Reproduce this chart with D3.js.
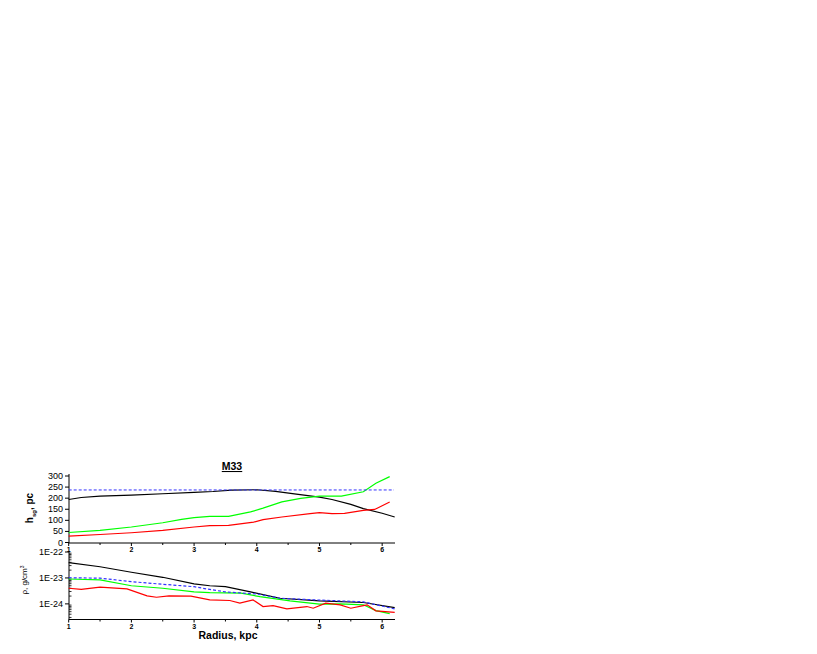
<!DOCTYPE html>
<html><head><meta charset="utf-8">
<script src="https://cdn.jsdelivr.net/npm/d3@7"></script>
<style>body{margin:0;background:#fff}svg{display:block}text{font-family:"Liberation Sans",Arial,sans-serif}</style>
</head><body>
<svg id="c" width="817" height="654"></svg>
<script>
// ---- data ----
const xTicks = [1,2,3,4,5,6];
const hTicks = [0,50,100,150,200,250,300];
const rhoTicks = [1e-22,1e-23,1e-24];
const rhoTickLabels = ["1E-22","1E-23","1E-24"];

const hBlackR = [1,1.2,1.5,2,2.5,3,3.3,3.6,4,4.3,4.6,5,5.2,5.5,5.7,6,6.2];
const hBlack  = [194,203,209,214,220,226,230,236,238,231,219,205,194,172,153,132,115];
const hBlueDash = 237;
const hGreenR = [1,1.5,2,2.5,2.8,3,3.25,3.55,3.9,4.1,4.4,4.7,5,5.35,5.7,5.9,6.12];
const hGreen  = [45,55,70,89,104,112,118,118,138,155,183,199,209,209,229,267,297];
const hRedR = [1,1.5,2,2.5,3,3.25,3.55,3.95,4.1,4.4,4.85,5.0,5.2,5.4,5.7,5.88,6.12];
const hRed  = [29,36,44,55,70,76,77,92,103,115,130,135,130,131,145,149,183];

const rBlackR = [1,1.5,2,2.5,3,3.25,3.5,3.9,4.37,5,5.7,6.2];
const rBlack  = [3.9e-23,2.7e-23,1.66e-23,1.06e-23,5.9e-24,5.0e-24,4.6e-24,2.9e-24,1.65e-24,1.3e-24,1.13e-24,7.2e-25];
const rBlueR = [1,1.5,2,2.5,3,3.25,3.5,4,4.37,5,5.7,6.2];
const rBlue  = [1.02e-23,9.8e-24,7.2e-24,5.7e-24,4.6e-24,3.6e-24,2.9e-24,2.4e-24,1.65e-24,1.4e-24,1.2e-24,6.4e-25];
const rGreenR = [1,1.5,2,2.5,3,3.25,3.75,4.05,4.53,5,5.33,5.7,5.9,6.12];
const rGreen  = [9.1e-24,8.4e-24,5.0e-24,4.0e-24,2.9e-24,2.7e-24,2.6e-24,1.9e-24,1.3e-24,9.8e-25,1.0e-24,9.2e-25,5.5e-25,4.2e-25];
const rRedR = [1,1.2,1.5,1.93,2.25,2.4,2.6,2.95,3.25,3.57,3.73,3.94,4.1,4.26,4.48,4.8,4.9,5.1,5.33,5.5,5.7,5.76,5.9,6.2];
const rRed  = [4.0e-24,3.6e-24,4.4e-24,3.8e-24,2.04e-24,1.8e-24,2.04e-24,2.0e-24,1.42e-24,1.35e-24,1.07e-24,1.42e-24,7.9e-25,8.6e-25,6.4e-25,7.9e-25,6.8e-25,1.07e-24,9.2e-25,6.8e-25,8.6e-25,9.2e-25,5.4e-25,4.7e-25];

// ---- layout ----
const svg = d3.select("#c");
const x = d3.scaleLinear().domain([1,6.2]).range([68.7,394.7]);
const yH = d3.scaleLinear().domain([0,300]).range([542.5,476]);
const yR = d3.scaleLog().domain([2.5e-25,1e-22]).range([619.5,552]);
const fs = "9px";

function xAxis(yPos){
  const g = svg.append("g");
  g.append("line").attr("x1",x(1)).attr("x2",395).attr("y1",yPos).attr("y2",yPos).attr("stroke","#000");
  xTicks.forEach(t=>{
    g.append("line").attr("x1",x(t)).attr("x2",x(t)).attr("y1",yPos).attr("y2",yPos+3).attr("stroke","#000");
    g.append("text").attr("x",x(t)).attr("y",yPos+9).attr("text-anchor","middle").style("font-size","7px").style("font-weight","bold").text(t);
  });
  [1.5,2.5,3.5,4.5,5.5].forEach(t=>{
    g.append("line").attr("x1",x(t)).attr("x2",x(t)).attr("y1",yPos).attr("y2",yPos+2).attr("stroke","#000");
  });
}

// top panel axes
svg.append("line").attr("x1",69).attr("x2",69).attr("y1",474).attr("y2",543).attr("stroke","#000");
hTicks.forEach(t=>{
  svg.append("line").attr("x1",65).attr("x2",69).attr("y1",yH(t)).attr("y2",yH(t)).attr("stroke","#000");
  svg.append("text").attr("x",63).attr("y",yH(t)+3).attr("text-anchor","end").style("font-size",fs).text(t);
});
xAxis(543);

// bottom panel axes
svg.append("line").attr("x1",69).attr("x2",69).attr("y1",551).attr("y2",619.5).attr("stroke","#000");
rhoTicks.forEach((t,i)=>{
  svg.append("line").attr("x1",65).attr("x2",69).attr("y1",yR(t)).attr("y2",yR(t)).attr("stroke","#000");
  svg.append("text").attr("x",63).attr("y",yR(t)+3).attr("text-anchor","end").style("font-size",fs).text(rhoTickLabels[i]);
});
yR.ticks().filter(t=>{const m=t/Math.pow(10,Math.floor(Math.log10(t)+1e-9));return Math.round(m)!==1;}).forEach(t=>{
  svg.append("line").attr("x1",69).attr("x2",71.5).attr("y1",yR(t)).attr("y2",yR(t)).attr("stroke","#000").attr("stroke-width",0.8);
});
xAxis(619.5);

// lines
function line(xs,ys,ys2,color,dash){
  const gen = d3.line().x((d,i)=>x(xs[i])).y((d,i)=>ys2(ys[i])).curve(d3.curveLinear);
  svg.append("path").attr("d",gen(ys)).attr("fill","none").attr("stroke",color).attr("stroke-width",1.2)
    .attr("stroke-dasharray",dash||null);
}
line(hBlackR,hBlack,yH,"#000");
line(hGreenR,hGreen,yH,"#00ff00");
line(hRedR,hRed,yH,"#ff0000");
svg.append("line").attr("x1",x(1)).attr("x2",394).attr("y1",yH(hBlueDash)).attr("y2",yH(hBlueDash))
  .attr("stroke","#3333ff").attr("stroke-width",1).attr("stroke-dasharray","3,2");

line(rBlackR,rBlack,yR,"#000");
line(rGreenR,rGreen,yR,"#00ff00");
line(rRedR,rRed,yR,"#ff0000");
line(rBlueR,rBlue,yR,"#3333ff","3,2");

// titles
svg.append("text").attr("x",232).attr("y",470).attr("text-anchor","middle").style("font-size","10.5px").style("font-weight","bold").style("text-decoration","underline").text("M33");
svg.append("text").attr("x",228).attr("y",639).attr("text-anchor","middle").style("font-size","10.5px").style("font-weight","bold").text("Radius, kpc");

const yl1 = svg.append("text").attr("transform","translate(33,508) rotate(-90)").attr("text-anchor","middle").style("font-size","10px").style("font-weight","bold");
yl1.append("tspan").text("h");
yl1.append("tspan").attr("dy",3).style("font-size","6px").text("sg");
yl1.append("tspan").attr("dy",-3).text(", pc");

const yl2 = svg.append("text").attr("transform","translate(27,580) rotate(-90)").attr("text-anchor","middle").style("font-size","8px");
yl2.append("tspan").text("ρ, g/cm");
yl2.append("tspan").attr("dy",-3).style("font-size","5px").text("3");
</script>
</body></html>
